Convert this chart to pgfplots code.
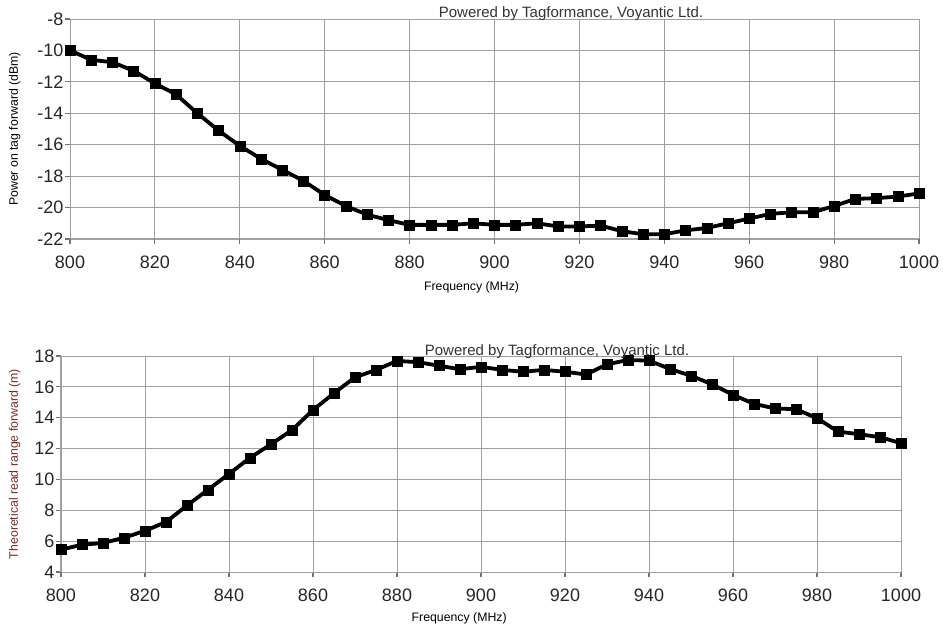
\documentclass[border=0pt]{standalone}
\usepackage{pgfplots}
\pgfplotsset{compat=1.18}
\usepackage{fontspec}
\setmainfont{Liberation Sans}

\definecolor{gridgray}{RGB}{160,160,160}
\definecolor{labred}{RGB}{125,40,40}

\pgfplotsset{
  tagplot/.style={
    scale only axis,
    anchor=south west,
    xmin=800, xmax=1000,
    xtick={800,820,...,1000},
    axis lines*=left,
    axis line style={-, gridgray, line width=1pt},
    grid=major,
    major grid style={gridgray, line width=0.9pt},
    xtick align=outside, ytick align=outside,
    major tick length=5pt,
    every tick/.style={black!55, line width=1.1pt},
    ticklabel style={font=\fontsize{18}{18}\selectfont, text=black!85},
    xticklabel style={yshift=-8pt},
    yticklabel style={inner xsep=1.5pt},
    /pgf/number format/assume math mode=true,
    /pgf/number format/1000 sep={},
    xlabel style={font=\fontsize{12.3}{13}\selectfont, anchor=center},
    ylabel style={font=\fontsize{12.3}{13}\selectfont, anchor=center},
  },
  tagline/.style={black, line width=3.8pt, mark=square*, mark size=5pt,
    mark options={solid, line width=0.5pt}},
}

\begin{document}
\begin{tikzpicture}
\useasboundingbox (0,0) rectangle (943pt,630pt);

% upper chart: power on tag
\begin{axis}[tagplot,
  at={(70pt,391pt)}, width=849pt, height=220pt,
  ymin=-22, ymax=-8, ytick={-22,-20,...,-8},
  xlabel={Frequency (MHz)},
  ylabel={Power on tag forward (dBm)},
  xlabel style={at={(axis description cs:0.473,-0.218)}},
  ylabel style={at={(axis description cs:-0.065,0.5)}},
]
\addplot[tagline] coordinates {
(800,-10.0) (805,-10.6) (810,-10.75) (815,-11.3) (820,-12.1) (825,-12.8)
(830,-14.0) (835,-15.1) (840,-16.07) (845,-16.9) (850,-17.6) (855,-18.3)
(860,-19.2) (865,-19.9) (870,-20.45) (875,-20.8) (880,-21.1) (885,-21.1)
(890,-21.1) (895,-21.0) (900,-21.1) (905,-21.1) (910,-21.0) (915,-21.2)
(920,-21.2) (925,-21.15) (930,-21.5) (935,-21.7) (940,-21.7) (945,-21.45)
(950,-21.3) (955,-21.0) (960,-20.7) (965,-20.4) (970,-20.3) (975,-20.3)
(980,-19.9) (985,-19.45) (990,-19.4) (995,-19.3) (1000,-19.1)
};
\end{axis}

% lower chart: theoretical read range
\begin{axis}[tagplot,
  at={(61pt,58pt)}, width=840pt, height=216pt,
  ymin=4, ymax=18, ytick={4,6,...,18},
  xlabel={Frequency (MHz)},
  ylabel={Theoretical read range forward (m)},
  xlabel style={at={(axis description cs:0.474,-0.213)}},
  ylabel style={at={(axis description cs:-0.055,0.5)}, text=labred},
]
\addplot[tagline] coordinates {
(800,5.45) (805,5.77) (810,5.88) (815,6.22) (820,6.67) (825,7.24)
(830,8.31) (835,9.33) (840,10.36) (845,11.4) (850,12.28) (855,13.2)
(860,14.5) (865,15.59) (870,16.62) (875,17.1) (880,17.68) (885,17.6)
(890,17.37) (895,17.14) (900,17.3) (905,17.1) (910,16.98) (915,17.1)
(920,16.98) (925,16.8) (930,17.46) (935,17.74) (940,17.7) (945,17.16)
(950,16.72) (955,16.17) (960,15.48) (965,14.9) (970,14.6) (975,14.55)
(980,13.97) (985,13.1) (990,12.93) (995,12.74) (1000,12.35)
};
\end{axis}

\node[font=\fontsize{15}{15}\selectfont, text=black!80] at (571pt,616pt) {Powered by Tagformance, Voyantic Ltd.};
\node[font=\fontsize{15}{15}\selectfont, text=black!80] at (557pt,278pt) {Powered by Tagformance, Voyantic Ltd.};
\end{tikzpicture}
\end{document}
